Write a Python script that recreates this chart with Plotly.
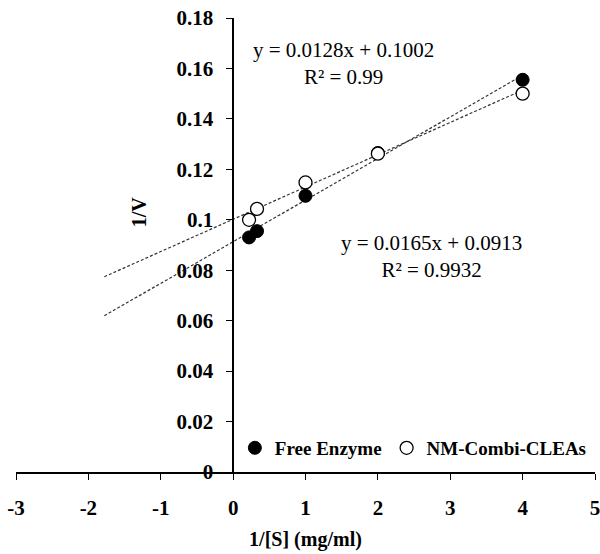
import plotly.graph_objects as go

# Data
x_free = [0.22, 0.33, 1, 2, 4]
y_free = [0.093, 0.0955, 0.1095, 0.1265, 0.1555]
x_cleas = [0.22, 0.33, 1, 2, 4]
y_cleas = [0.100, 0.1043, 0.1148, 0.1262, 0.1500]

# Trendline fits (as shown in chart)
slope_free, icpt_free = 0.0165, 0.0913
slope_cleas, icpt_cleas = 0.0128, 0.1002
trend_x = [-1.78, 4.0]

y_ticks = [0, 0.02, 0.04, 0.06, 0.08, 0.1, 0.12, 0.14, 0.16, 0.18]
y_ticktext = ["0", "0.02", "0.04", "0.06", "0.08", "0.1", "0.12", "0.14", "0.16", "0.18"]
x_ticks = [-3, -2, -1, 0, 1, 2, 3, 4, 5]
x_ticktext = ["-3", "-2", "-1", "0", "1", "2", "3", "4", "5"]

FONT = "Liberation Serif"

fig = go.Figure()

fig.add_trace(go.Scatter(
    x=trend_x, y=[slope_free * v + icpt_free for v in trend_x], mode="lines",
    line=dict(color="#333", width=1.2, dash="3px,2px"), showlegend=False, hoverinfo="skip"))
fig.add_trace(go.Scatter(
    x=trend_x, y=[slope_cleas * v + icpt_cleas for v in trend_x], mode="lines",
    line=dict(color="#333", width=1.2, dash="3px,2px"), showlegend=False, hoverinfo="skip"))

fig.add_trace(go.Scatter(
    x=x_free, y=y_free, mode="markers", name="Free Enzyme",
    marker=dict(symbol="circle", size=13, color="black", line=dict(color="black", width=1))))
fig.add_trace(go.Scatter(
    x=x_cleas, y=y_cleas, mode="markers", name="NM-Combi-CLEAs",
    marker=dict(symbol="circle", size=13, color="white", line=dict(color="black", width=1.3))))

fig.update_layout(
    width=600, height=554,
    margin=dict(l=16, r=5, t=18, b=82, autoexpand=False),
    plot_bgcolor="white", paper_bgcolor="white",
    font=dict(family=FONT, color="black"),
    showlegend=True,
    legend=dict(orientation="h", x=0.378, y=0.053, xanchor="left", yanchor="middle",
                font=dict(family=FONT, size=19, weight="bold"),
                bgcolor="rgba(0,0,0,0)", itemwidth=30, tracegroupgap=0),
    xaxis=dict(range=[-3, 5], tickvals=x_ticks, ticktext=x_ticktext, showgrid=False, zeroline=False,
               showline=True, linecolor="black", linewidth=1.5,
               ticks="outside", ticklen=6, tickcolor="black", tickwidth=1.2,
               ticklabelstandoff=10, ticklabeloverflow="allow",
               tickfont=dict(family=FONT, size=21, weight="bold"),
               title=dict(text="1/[S] (mg/ml)", font=dict(family=FONT, size=20, weight="bold"),
                          standoff=13)),
    yaxis=dict(range=[0, 0.18], tickvals=y_ticks, ticktext=y_ticktext, showgrid=False, zeroline=False,
               anchor="free", position=0.375,
               showline=True, linecolor="black", linewidth=1.5,
               ticks="outside", ticklen=6, tickcolor="black", tickwidth=1.2,
               ticklabelstandoff=9, ticklabeloverflow="allow",
               tickfont=dict(family=FONT, size=21, weight="bold")),
)

fig.add_annotation(x=-1.3, y=0.103, xref="x", yref="y", text="<b>1/V</b>", textangle=-90,
                   showarrow=False, font=dict(family=FONT, size=20))
fig.add_annotation(x=1.52, y=0.162, xref="x", yref="y", text="y = 0.0128x + 0.1002<br>R² = 0.99",
                   showarrow=False, font=dict(family=FONT, size=21), align="center")
fig.add_annotation(x=2.74, y=0.0855, xref="x", yref="y", text="y = 0.0165x + 0.0913<br>R² = 0.9932",
                   showarrow=False, font=dict(family=FONT, size=21), align="center")

fig.write_html("out.html")
